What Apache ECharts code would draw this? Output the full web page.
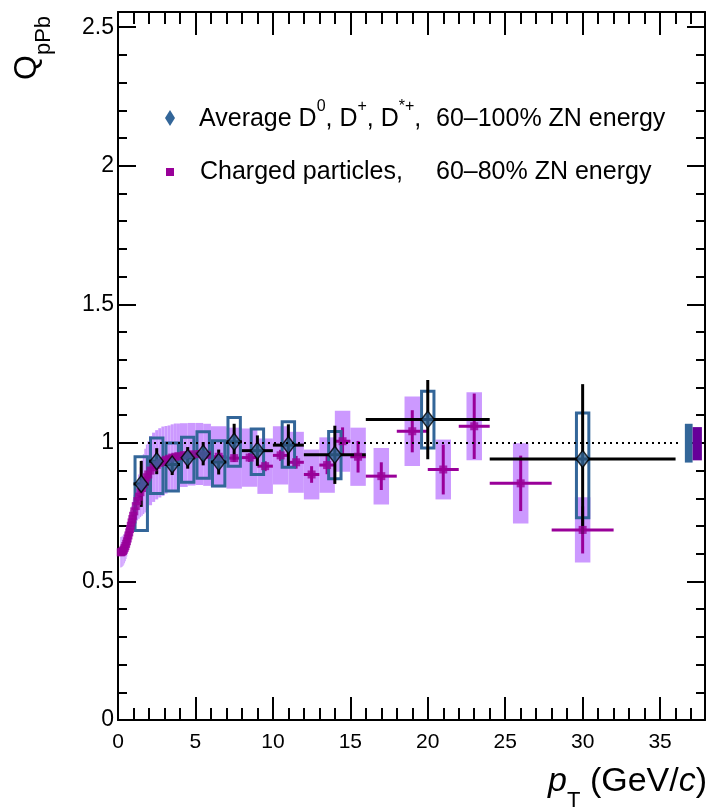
<!DOCTYPE html>
<html>
<head>
<meta charset="utf-8">
<script src="https://cdn.jsdelivr.net/npm/echarts@6.0.0/dist/echarts.min.js"></script>
<style>
  html, body { margin: 0; padding: 0; background: #fff; }
  #chart { width: 708px; height: 809px; }
</style>
</head>
<body>
<div id="chart"></div>
<script>
// D mesons, average D0 D+ D*+ (60-100% ZN)
const dPt = [1.5, 2.5, 3.5, 4.5, 5.5, 6.5, 7.5, 9, 11, 14, 20, 30]
const dHalf = [0.5, 0.5, 0.5, 0.5, 0.5, 0.5, 0.5, 1, 1, 2, 4, 6]
const dVal = [0.852, 0.934, 0.922, 0.946, 0.961, 0.931, 1.004, 0.972, 0.992, 0.957, 1.084, 0.942]
const dStat = [0.083, 0.047, 0.038, 0.039, 0.042, 0.045, 0.065, 0.055, 0.075, 0.105, 0.143, 0.27]
const dSysHi = [0.098, 0.084, 0.078, 0.074, 0.079, 0.077, 0.088, 0.078, 0.084, 0.084, 0.102, 0.166]
const dSysLo = [0.168, 0.117, 0.096, 0.088, 0.089, 0.087, 0.088, 0.086, 0.08, 0.086, 0.102, 0.212]

// charged particles (60-80% ZN), bin edges
const cLo = [0.15, 0.2, 0.25, 0.3, 0.35, 0.4, 0.45, 0.5, 0.55, 0.6, 0.65, 0.7, 0.75, 0.8, 0.85, 0.9, 0.95,
  1.0, 1.1, 1.2, 1.3, 1.4, 1.5, 1.6, 1.7, 1.8, 1.9,
  2.0, 2.2, 2.4, 2.6, 2.8, 3.0, 3.2, 3.4, 3.6, 3.8,
  4.0, 4.5, 5.0, 5.5,
  6, 7, 8, 9, 10, 11, 12, 13, 14, 15, 16, 18, 20, 22, 24, 28]
const cHi = [0.2, 0.25, 0.3, 0.35, 0.4, 0.45, 0.5, 0.55, 0.6, 0.65, 0.7, 0.75, 0.8, 0.85, 0.9, 0.95, 1.0,
  1.1, 1.2, 1.3, 1.4, 1.5, 1.6, 1.7, 1.8, 1.9, 2.0,
  2.2, 2.4, 2.6, 2.8, 3.0, 3.2, 3.4, 3.6, 3.8, 4.0,
  4.5, 5.0, 5.5, 6.0,
  7, 8, 9, 10, 11, 12, 13, 14, 15, 16, 18, 20, 22, 24, 28, 32]
const cVal = [0.605, 0.606, 0.608, 0.611, 0.615, 0.621, 0.628, 0.636, 0.645, 0.655, 0.666, 0.677, 0.689, 0.701, 0.713, 0.725, 0.737,
  0.753, 0.772, 0.79, 0.806, 0.822, 0.837, 0.851, 0.864, 0.876, 0.886,
  0.9, 0.912, 0.921, 0.928, 0.934, 0.939, 0.943, 0.947, 0.95, 0.952,
  0.956, 0.959, 0.96, 0.957,
  0.95, 0.945, 0.947, 0.916, 0.955, 0.93, 0.886, 0.92, 1.006, 0.95, 0.88, 1.042, 0.904, 1.06, 0.854, 0.686]
const cStat = [0.004, 0.004, 0.004, 0.004, 0.004, 0.004, 0.004, 0.004, 0.004, 0.004, 0.004, 0.004, 0.004, 0.004, 0.004, 0.004, 0.004,
  0.005, 0.005, 0.005, 0.005, 0.005, 0.005, 0.005, 0.005, 0.005, 0.005,
  0.005, 0.006, 0.006, 0.006, 0.007, 0.007, 0.007, 0.008, 0.008, 0.008,
  0.009, 0.01, 0.01, 0.011,
  0.012, 0.014, 0.016, 0.018, 0.02, 0.023, 0.03, 0.033, 0.05, 0.057, 0.05, 0.076, 0.09, 0.118, 0.1, 0.085]
const cSys = [0.055, 0.055, 0.055, 0.055, 0.055, 0.055, 0.055, 0.055, 0.055, 0.055, 0.056, 0.056, 0.057, 0.057, 0.058, 0.058, 0.059,
  0.06, 0.065, 0.07, 0.08, 0.09, 0.1, 0.108, 0.115, 0.118, 0.12,
  0.125, 0.125, 0.125, 0.125, 0.125, 0.122, 0.12, 0.12, 0.12, 0.118,
  0.115, 0.113, 0.112, 0.112,
  0.11, 0.11, 0.105, 0.1, 0.105, 0.11, 0.09, 0.1, 0.11, 0.105, 0.102, 0.125, 0.108, 0.123, 0.145, 0.118]

// normalisation uncertainties drawn at the right edge
const normLo = [36.6, 37.1]
const normHi = [37.1, 37.7]
const normUp = [1.069, 1.057]
const normDown = [0.929, 0.937]
const normColor = ['#336699', '#660099']

// reference line at unity
const unityX = [0, 36.4]

const xTicks = {min: 0, max: 37.9, interval: 5}
const yTicks = {min: 0, max: 2.555, interval: 0.5}

const FONT = 'Liberation Sans, Arial, Helvetica, sans-serif'
const BLUE = '#336699'
const PURPLE = '#990099'
const LILAC = '#cc99ff'

const rectFrom = (api, x0, x1, y0, y1) => {
  const a = api.coord([x0, y1])
  const b = api.coord([x1, y0])
  return {x: a[0], y: a[1], width: b[0] - a[0], height: b[1] - a[1]}
}

const seg = (api, p, q, color, w) => {
  const a = api.coord(p)
  const b = api.coord(q)
  return {type: 'line', shape: {x1: a[0], y1: a[1], x2: b[0], y2: b[1]}, style: {stroke: color, lineWidth: w}}
}

const chargedData = cVal.map((v, i) => [(cLo[i] + cHi[i]) / 2, v, cStat[i], cSys[i], cLo[i], cHi[i]])
const dData = dVal.map((v, i) => [dPt[i], v, dStat[i], dSysLo[i], dSysHi[i], dHalf[i]])
const normData = normLo.map((lo, i) => [lo, normHi[i], normDown[i], normUp[i], i])

const axisBase = (pos, ticks, len, minorLen) => ({
  type: 'value',
  position: pos,
  min: ticks.min,
  max: ticks.max,
  interval: ticks.interval,
  axisLine: {onZero: false, lineStyle: {color: '#000', width: 2}},
  axisTick: {inside: true, length: len, lineStyle: {color: '#000', width: 2}},
  minorTick: {show: true, splitNumber: 5, length: minorLen, lineStyle: {color: '#000', width: 2}},
  splitLine: {show: false},
  minorSplitLine: {show: false},
})

const onMajor = (v, step) => Math.abs(v / step - Math.round(v / step)) < 1e-6

const option = {
  animation: false,
  backgroundColor: '#fff',
  grid: {left: 118, right: 1, top: 12, bottom: 89},
  xAxis: [
    {
      ...axisBase('bottom', xTicks, 23, 12),
      axisLabel: {
        color: '#000', fontSize: 21, fontFamily: FONT, margin: 12,
        formatter: v => onMajor(v, 5) ? String(v) : ''
      }
    },
    {...axisBase('top', xTicks, 23, 12), axisLabel: {show: false}}
  ],
  yAxis: [
    {
      ...axisBase('left', yTicks, 18, 9),
      axisLabel: {
        color: '#000', fontSize: 23, fontFamily: FONT, margin: 4,
        formatter: v => onMajor(v, 0.5) ? String(v) : ''
      }
    },
    {...axisBase('right', yTicks, 18, 9), axisLabel: {show: false}}
  ],
  series: [
    {
      // charged particle systematics
      type: 'custom',
      data: chargedData,
      renderItem: (params, api) => {
        const x = api.value(0), v = api.value(1), sys = api.value(3)
        const half = Math.min((api.value(5) - api.value(4)) / 2, 0.5)
        return {
          type: 'rect',
          shape: rectFrom(api, x - half, x + half, v - sys, v + sys),
          style: {fill: LILAC}
        }
      }
    },
    {
      type: 'line',
      data: unityX.map(x => [x, 1]),
      symbol: 'none',
      lineStyle: {color: '#000', width: 2, type: [2, 4]}
    },
    {
      // charged particle stat errors
      type: 'custom',
      data: chargedData,
      renderItem: (params, api) => {
        const x = api.value(0), v = api.value(1), st = api.value(2)
        return {
          type: 'group',
          children: [
            seg(api, [x, v - st], [x, v + st], PURPLE, 3),
            seg(api, [api.value(4), v], [api.value(5), v], PURPLE, 3)
          ]
        }
      }
    },
    {
      type: 'scatter',
      data: chargedData.map(d => [d[0], d[1]]),
      symbol: 'rect',
      symbolSize: 8,
      itemStyle: {color: PURPLE}
    },
    {
      // D meson systematics boxes
      type: 'custom',
      data: dData,
      renderItem: (params, api) => {
        const x = api.value(0), v = api.value(1)
        return {
          type: 'rect',
          shape: rectFrom(api, x - 0.4, x + 0.4, v - api.value(3), v + api.value(4)),
          style: {fill: 'none', stroke: BLUE, lineWidth: 3}
        }
      }
    },
    {
      // D meson stat errors and bin widths
      type: 'custom',
      data: dData,
      renderItem: (params, api) => {
        const x = api.value(0), v = api.value(1), st = api.value(2), hw = api.value(5)
        return {
          type: 'group',
          children: [
            seg(api, [x - hw, v], [x + hw, v], '#000', 3),
            seg(api, [x, v - st], [x, v + st], '#000', 3)
          ]
        }
      }
    },
    {
      type: 'scatter',
      data: dData.map(d => [d[0], d[1]]),
      symbol: 'diamond',
      symbolSize: [13, 17],
      itemStyle: {color: BLUE, borderColor: '#000', borderWidth: 1.5}
    },
    {
      type: 'custom',
      data: normData,
      renderItem: (params, api) => ({
        type: 'rect',
        shape: rectFrom(api, api.value(0), api.value(1), api.value(2), api.value(3)),
        style: {fill: normColor[api.value(4)]}
      })
    }
  ],
  graphic: [
    {
      type: 'text', x: 27, y: 80, rotation: Math.PI / 2,
      style: {
        text: '{q|Q}{s|pPb}', align: 'left', verticalAlign: 'middle', fill: '#000',
        rich: {
          q: {fontSize: 32, fontFamily: FONT, lineHeight: 56, fill: '#000'},
          s: {fontSize: 22, fontFamily: FONT, lineHeight: 22, verticalAlign: 'bottom', fill: '#000'}
        }
      }
    },
    {
      type: 'text', x: 707, y: 782,
      style: {
        text: '{i|p}{s|T}{n| (GeV/}{i|c}{n|)}', align: 'right', verticalAlign: 'middle', fill: '#000',
        rich: {
          i: {fontSize: 34, fontFamily: FONT, fontStyle: 'italic', lineHeight: 60, fill: '#000'},
          n: {fontSize: 34, fontFamily: FONT, lineHeight: 60, fill: '#000'},
          s: {fontSize: 22, fontFamily: FONT, lineHeight: 22, verticalAlign: 'bottom', fill: '#000'}
        }
      }
    },
    // legend
    {
      type: 'polygon',
      shape: {points: [[170, 110], [175, 118], [170, 126], [165, 118]]},
      style: {fill: BLUE}
    },
    {
      type: 'rect',
      shape: {x: 166, y: 168, width: 8, height: 8},
      style: {fill: PURPLE}
    },
    {
      type: 'text', x: 199, y: 119,
      style: {
        text: '{n|Average D}{p|0}{n|, D}{p|+}{n|, D}{p|*+}{n|,}', align: 'left', verticalAlign: 'middle',
        rich: {
          n: {fontSize: 25, fontFamily: FONT, lineHeight: 40, fill: '#000'},
          p: {fontSize: 16, fontFamily: FONT, lineHeight: 16, verticalAlign: 'top', fill: '#000'}
        }
      }
    },
    {
      type: 'text', x: 436, y: 119,
      style: {text: '60–100% ZN energy', fontSize: 25, fontFamily: FONT, fill: '#000', verticalAlign: 'middle'}
    },
    {
      type: 'text', x: 200, y: 172,
      style: {text: 'Charged particles,', fontSize: 25, fontFamily: FONT, fill: '#000', verticalAlign: 'middle'}
    },
    {
      type: 'text', x: 436, y: 172,
      style: {text: '60–80% ZN energy', fontSize: 25, fontFamily: FONT, fill: '#000', verticalAlign: 'middle'}
    }
  ]
}

const chart = echarts.init(document.getElementById('chart'))
chart.setOption(option)
</script>
</body>
</html>
